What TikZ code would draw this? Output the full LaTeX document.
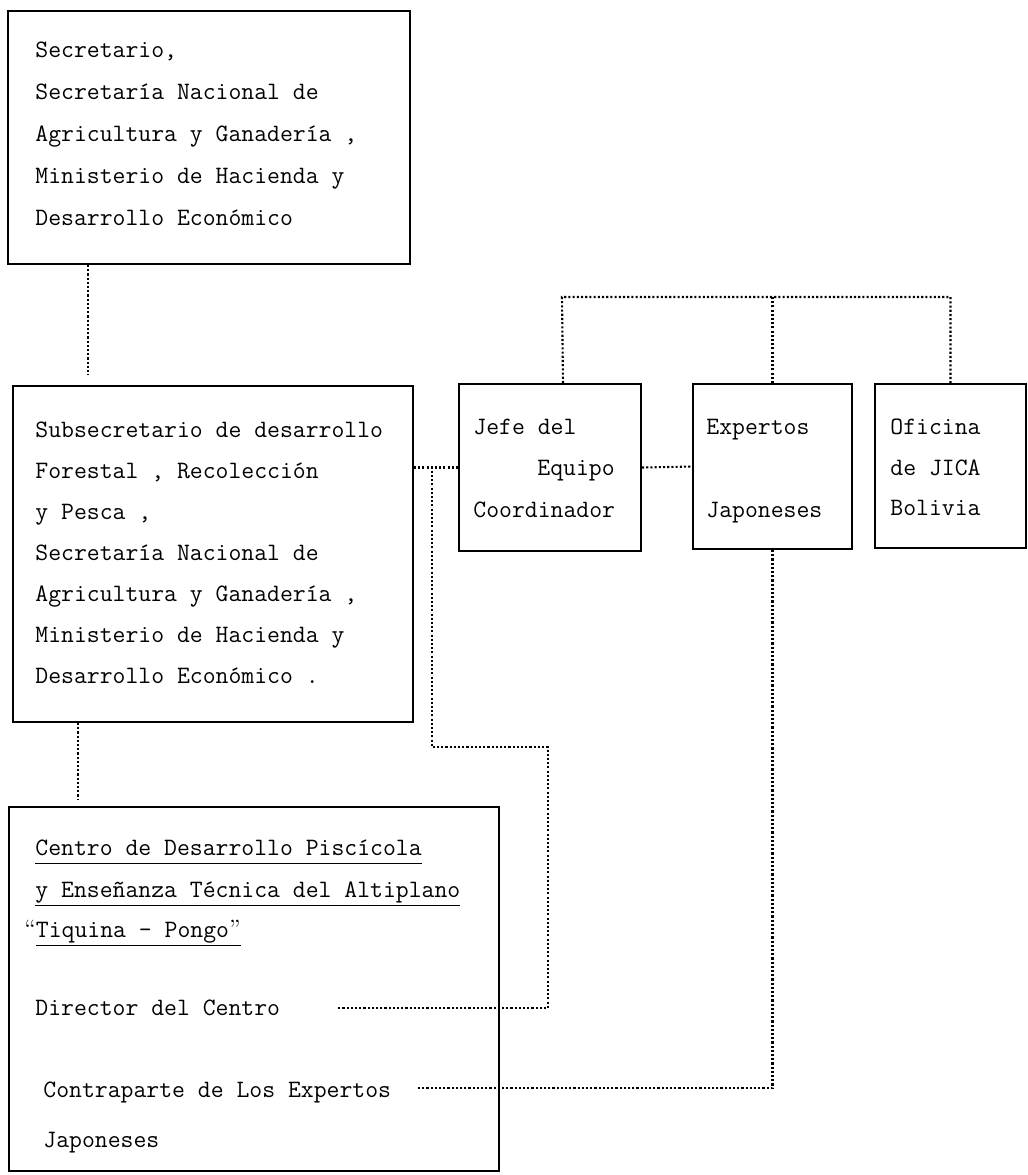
\documentclass[tikz,border=0pt]{standalone}
\tikzset{
  box/.style={draw, line width=1pt, rectangle, anchor=north west, inner sep=0pt},
  txt/.style={anchor=base west, inner sep=0pt, font=\ttfamily\fontsize{12.5}{15}\selectfont},
  link/.style={line width=1.05pt, dash pattern=on 1.05pt off 1.05pt},
}
\newcommand\undl[1]{\underline{#1\vphantom{y}}}
\begin{document}
\begin{tikzpicture}[x=0.5pt, y=-0.5pt, line join=miter]
			\useasboundingbox (0,0) rectangle (1028,1175);
			\node[box, minimum width=201pt, minimum height=126.5pt] (sec) at (7,10) {};
			\node[box, minimum width=200pt, minimum height=168pt] (sub) at (12,385) {};
			\node[box, minimum width=245pt, minimum height=182pt] (ctr) at (8,806) {};
			\node[box, minimum width=91pt, minimum height=83.5pt] (jefe) at (458,383) {};
			\node[box, minimum width=79.5pt, minimum height=82.5pt] (exp) at (692,383) {};
			\node[box, minimum width=75.5pt, minimum height=82pt] (ofi) at (874,383) {};
			\foreach \t [count=\i] in {{Secretario,},{Secretaría Nacional de},{Agricultura y Ganadería ,},{Ministerio de Hacienda y},{Desarrollo Económico}}
				\node[txt] (sec-\i) at (35,15+42*\i) {\t};
			\foreach \t [count=\i] in {{Subsecretario de desarrollo},{Forestal , Recolección},{y Pesca ,},{Secretaría Nacional de},{Agricultura y Ganadería ,},{Ministerio de Hacienda y},{Desarrollo Económico .}}
				\node[txt] (sub-\i) at (35,396+41*\i) {\t};
			\node[txt] (jefe-1) at (473,434) {Jefe del};
			\node[txt] (jefe-2) at (537,475) {Equipo};
			\node[txt] (jefe-3) at (473,517) {Coordinador};
			\node[txt] (exp-1) at (706,434) {Expertos};
			\node[txt] (exp-2) at (706,517) {Japoneses};
			\node[txt] (ofi-1) at (890,434) {Oficina};
			\node[txt] (ofi-2) at (890,475) {de JICA};
			\node[txt] (ofi-3) at (890,515) {Bolivia};
			\node[txt] (ctr-1) at (35,855) {\undl{Centro de Desarrollo Piscícola}};
			\node[txt] (ctr-2) at (35,897) {\undl{y Enseñanza Técnica del Altiplano}};
			\node[txt] (ctr-3) at (24,937) {{\rmfamily “}\undl{Tiquina - Pongo{\rmfamily ”}}};
			\node[txt] (ctr-4) at (35,1015) {Director del Centro};
			\node[txt] (ctr-5) at (43,1097) {Contraparte de Los Expertos};
			\node[txt] (ctr-6) at (43,1147) {Japoneses};
			\coordinate (topbar) at (562,297);
			\coordinate (jct) at (432,466.5);
			\coordinate (bend) at (548,747);
			\coordinate (dirend) at (337,1008);
			\coordinate (ctrend) at (418,1088);
			\draw[link, shorten >=5pt] ([xshift=40.5pt]sec.south west) -- ([xshift=38pt]sub.north west);
			\draw[link, shorten >=3pt] ([xshift=33pt]sub.south west) -- ([xshift=35pt]ctr.north west);
			\draw[link] ([xshift=6.5pt]jefe.north) -- (topbar) -| (ofi.north);
			\draw[link] (exp.north) -- (exp.north |- topbar);
			\draw[link] (jefe.west) -- (jefe.west -| sub.east);
			\draw[link] (jefe.east) -- (exp.west);
			\draw[link] (jct) -- (jct |- bend) -- (bend) -- (bend |- dirend) -- (dirend);
			\draw[link] (exp.south) |- (ctrend);
		\end{tikzpicture}
\end{document}
